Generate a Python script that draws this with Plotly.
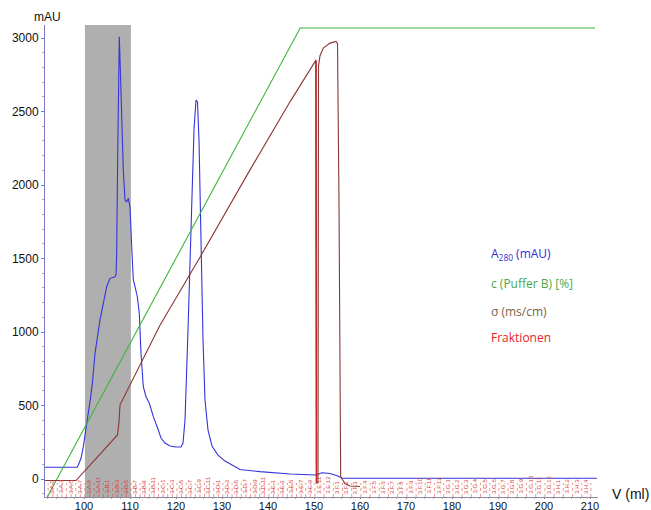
import plotly.graph_objects as go

# ---------------- data ----------------
# A280 (mAU) vs volume (ml)
a280_v = [91.5, 98.5, 98.76, 99.35, 99.85, 100.43, 100.93, 101.46, 101.89, 102.39, 103.48, 104.2,
          104.93, 105.65, 106.74, 106.96, 107.1, 107.33, 107.54, 107.67, 107.9, 108.2, 108.54,
          108.91, 109.28, 109.63, 110.0, 110.37, 110.72, 111.09, 111.59, 112.02, 112.39, 112.89,
          113.48, 114.2, 115.07, 116.15, 116.74, 117.61, 118.7, 120.0, 121.09, 121.52, 121.96,
          122.61, 123.26, 123.91, 124.35, 124.67, 125.0, 125.43, 125.87, 126.3, 126.96, 127.83,
          129.13, 130.65, 133.91, 138.26, 144.78, 150.43, 150.87, 151.74, 153.48, 155.2, 156.09,
          211.5]
a280_mau = [80, 80, 95, 141, 220, 333, 447, 560, 673, 855, 1082, 1195,
            1308, 1365, 1376, 1388, 1535, 2216, 2896, 3009, 2782, 2442, 2102,
            1898, 1886, 1909, 1852, 1580, 1354, 1308, 1240, 1127, 855, 628,
            560, 515, 424, 333, 279, 245, 224, 218, 218, 245, 401,
            1014, 1762, 2374, 2578, 2565, 2306, 1558, 946, 537, 333, 224,
            163, 122, 65, 50, 34, 27, 34, 43, 37, 20, 5,
            5]

# Puffer B gradient (%)
buffer_v = [92.0, 147.0, 211.1]
buffer_pct = [0, 100, 100]

# Conductivity (ms/cm)
cond_v = [91.5, 98.26, 107.28, 107.61, 107.83, 116.52, 125.22, 136.09, 144.78, 150.22, 150.43,
          150.54, 150.87, 150.98, 151.30, 152.02, 153.48, 154.78, 155.11, 155.43, 155.8, 156.74,
          157.83, 160.0]
cond_ms = [0, 0, 8.3, 10.7, 13.8, 28.3, 40.7, 56.6, 69.0, 76.3, 76.6,
           -0.45, -0.45, 75.5, 77.4, 78.8, 79.7, 80.0, 79.6, 51.1, 0.7, -0.6,
           -1.0, -1.1]

# Fractions
plate = "3"
rows = "ABCDEFGH"
n_cols = 12
frac_first_start = 92.2      # ml
frac_small_size = 1.0        # ml
frac_switch_label = "E.11"   # fraction size changes here
frac_switch_start = 150.2    # ml
frac_large_size = 2.0        # ml
frac_last_label = "H.4"
pooled_first = "A.9"
pooled_last = "B.6"

x_ticks = [100, 110, 120, 130, 140, 150, 160, 170, 180, 190, 200, 210]
y_ticks = [0, 500, 1000, 1500, 2000, 2500, 3000]

# ---------------- build fractions ----------------
names = [f"{r}.{c}" for r in rows for c in range(1, n_cols + 1)]
switch_i = names.index(frac_switch_label)
last_i = names.index(frac_last_label)
starts = []
for i in range(last_i + 2):
    if i < switch_i:
        starts.append(frac_first_start + i * frac_small_size)
    else:
        starts.append(frac_switch_start + (i - switch_i) * frac_large_size)

Y0, Y1 = -122.4, 3088.4
fig = go.Figure()

p0 = starts[names.index(pooled_first)]
p1 = starts[names.index(pooled_last) + 1]
fig.add_shape(type="rect", xref="x", yref="paper", x0=p0, x1=p1, y0=0, y1=1,
              fillcolor="#afafaf", line_width=0, layer="below")

# fraction tick marks
tx, ty = [], []
for s in starts:
    tx += [s, s, None]
    ty += [Y0, -27, None]
fig.add_trace(go.Scatter(x=tx, y=ty, mode="lines", line=dict(color="rgba(220,70,70,0.55)", width=1, dash="dot"),
                         hoverinfo="skip", showlegend=False))

fig.add_trace(go.Scatter(x=buffer_v, y=buffer_pct, mode="lines", yaxis="y2",
                         line=dict(color="#3cb53c", width=1.1), showlegend=False))
fig.add_trace(go.Scatter(x=cond_v, y=cond_ms, mode="lines", yaxis="y3",
                         line=dict(color="#8b3535", width=1.1), showlegend=False))
# red fraction-change event line, drawn along the conductivity drop
fig.add_trace(go.Scatter(x=[cond_v[10], cond_v[11]], y=[cond_ms[10], cond_ms[11]], mode="lines", yaxis="y3",
                         line=dict(color="#c22a26", width=1.6), showlegend=False, hoverinfo="skip"))
fig.add_trace(go.Scatter(x=a280_v, y=a280_mau, mode="lines",
                         line=dict(color="#3434dc", width=1.1), showlegend=False))

annotations = []
for i in range(last_i + 1):
    r, c = names[i].split(".")
    if i < switch_i and int(c) % 2 == 0:
        continue
    annotations.append(dict(x=starts[i] + 0.8, y=-116, xref="x", yref="y",
                            text=f"{plate}.{names[i]}", showarrow=False, textangle=-90,
                            xanchor="center", yanchor="bottom",
                            font=dict(family="Liberation Sans, Arial", size=6, color="#dc3c3c")))

legend_items = [("A<sub>280</sub> (mAU)", "#2e2ed8", 0.515),
                ("c (Puffer B) [%]", "#4aa84a", 0.453),
                ("σ (ms/cm)", "#7d5f45", 0.394),
                ("Fraktionen", "#e8221e", 0.337)]
for t, col, yy in legend_items:
    annotations.append(dict(x=0.803, y=yy, xref="paper", yref="paper", text=t, showarrow=False,
                            xanchor="left", yanchor="middle",
                            font=dict(family="Open Sans", size=12, color=col)))

annotations.append(dict(x=0.004, y=1.018, xref="paper", yref="paper", text="mAU", showarrow=False,
                        xanchor="center", yanchor="middle",
                        font=dict(family="Liberation Sans, Arial", size=12, color="#111")))
annotations.append(dict(x=1.0217, y=0.006, xref="paper", yref="paper", text="V (ml)", showarrow=False,
                        xanchor="left", yanchor="middle",
                        font=dict(family="Liberation Sans, Arial", size=14, color="#111")))

fig.update_layout(
    width=651, height=510,
    margin=dict(l=45, r=53, t=25, b=13, autoexpand=False),
    paper_bgcolor="white", plot_bgcolor="white",
    annotations=annotations,
    xaxis=dict(range=[91.52, 211.74], tickvals=x_ticks, ticktext=[str(v) for v in x_ticks],
               automargin=False, ticklabelstandoff=-2,
               showgrid=False, zeroline=False, showline=True, linecolor="#8a8a9a", linewidth=1,
               ticks="outside", ticklen=1, tickcolor="#8a8a9a",
               minor=dict(dtick=2, tick0=100, ticks="outside", ticklen=1, tickcolor="#b0b0c0"),
               tickfont=dict(family="Liberation Sans, Arial", size=11, color="#111")),
    yaxis=dict(range=[Y0, Y1], tickvals=y_ticks, ticktext=[str(v) for v in y_ticks],
               automargin=False,
               showgrid=False, zeroline=False, showline=True, linecolor="#7b7bc8", linewidth=1,
               ticks="outside", ticklen=3, tickcolor="#7b7bc8",
               minor=dict(dtick=100, tick0=0, ticks="outside", ticklen=2, tickcolor="#a8a8d8"),
               tickfont=dict(family="Liberation Sans, Arial", size=12, color="#111")),
    yaxis2=dict(range=[0, 100.64], overlaying="y", visible=False),
    yaxis3=dict(range=[-3, 83], overlaying="y", visible=False),
)

fig.write_html("out.html", config={"displayModeBar": False},
               post_script="document.body.style.margin='0px';")
